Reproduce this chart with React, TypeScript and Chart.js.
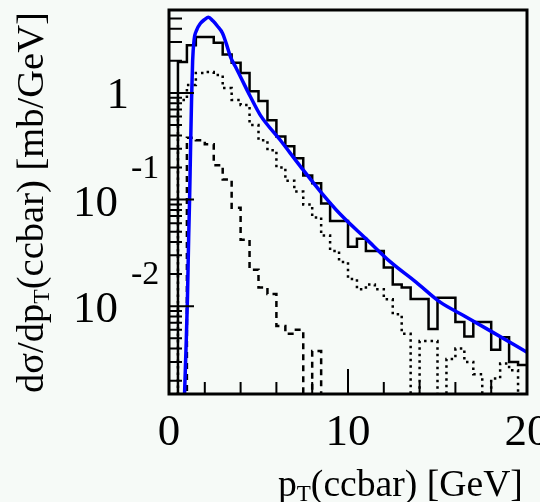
import React, { useEffect, useRef } from 'react';
import { Chart, registerables } from 'chart.js';

Chart.register(...registerables);

// ---------- data ----------
const BIN_EDGES = [
  0, 0.5, 1, 1.5, 2, 2.5, 3, 3.5, 4, 4.5, 5, 5.5, 6, 6.5, 7, 7.5, 8, 8.5, 9, 9.5, 10,
  10.5, 11, 11.5, 12, 12.5, 13, 13.5, 14, 14.5, 15, 15.5, 16, 16.5, 17, 17.5, 18, 18.5, 19, 19.5, 20,
];

// solid histogram (all)
const SOLID = [
  0, 1.95, 2.8, 3.35, 3.35, 2.96, 2.3, 1.92, 1.54, 1.04,
  0.84, 0.556, 0.39, 0.316, 0.244, 0.168, 0.142, 0.092, 0.063, 0.063,
  0.036, 0.043, 0.033, 0.033, 0.023, 0.016, 0.015, 0.0117, 0.0117, 0.0061,
  0.012, 0.012, 0.0071, 0.0052, 0.0071, 0.0071, 0.0039, 0.0051, 0.003, 0.0028,
];

// dotted histogram
const DOTTED = [
  0, 0.86, 1.19, 1.54, 1.57, 1.47, 1.11, 0.86, 0.77, 0.5,
  0.36, 0.29, 0.2, 0.15, 0.119, 0.09, 0.068, 0.046, 0.033, 0.026,
  0.018, 0.0144, 0.016, 0.0144, 0.0116, 0.0084, 0.0055, 0, 0.0047, 0.0047,
  0, 0.0032, 0.004, 0.003, 0.0023, 0, 0.0021, 0.0029, 0.0025, 0,
];

// dashed histogram (bins 0 .. 9 GeV)
const DASHED = [
  0, 0, 0.38, 0.36, 0.33, 0.21, 0.154, 0.084, 0.042, 0.022,
  0.015, 0.013, 0.0065, 0.0055, 0.006, 0, 0.0038, 0,
];

// blue curve
const CURVE_PT = [
  0.85, 0.95, 1.03, 1.1, 1.15, 1.2, 1.26, 1.32, 1.4, 1.55, 1.76, 2.0, 2.2, 2.45, 2.7,
  2.99, 3.2, 3.44, 3.7, 4.0, 4.55, 5.1, 6.2, 7.35, 8.46, 9.6, 11, 12.37, 13.8, 15.15,
  16.5, 18, 20,
];
const CURVE_VAL = [
  0.0012, 0.004, 0.0116, 0.045, 0.1, 0.275, 0.86, 2.0, 3.13, 3.9, 4.5, 4.9, 5.13, 4.75, 4.25,
  3.64, 2.9, 2.17, 1.78, 1.41, 0.92, 0.62, 0.364, 0.204, 0.119, 0.072, 0.043, 0.026, 0.0168, 0.0109,
  0.0081, 0.0058, 0.0037,
];

const X_TICKS = [0, 2, 4, 6, 8, 10, 12, 14, 16, 18, 20];
const X_MAJOR = [0, 10, 20];
const X_LABELS = ['0', '10', '20'];

const Y_TICKS = [
  0.002, 0.003, 0.004, 0.005, 0.006, 0.007, 0.008, 0.009,
  0.01, 0.02, 0.03, 0.04, 0.05, 0.06, 0.07, 0.08, 0.09,
  0.1, 0.2, 0.3, 0.4, 0.5, 0.6, 0.7, 0.8, 0.9,
  1, 2, 3, 4, 5, 6,
];
const Y_MAJOR = [0.01, 0.1, 1];
const Y_LABEL_BASE = ['10', '10', '1'];
const Y_LABEL_EXP = ['-2', '-1', ''];

const X_MIN = 0;
const X_MAX = 20;
const Y_MIN = 0.0015;
const Y_MAX = 6;
const ZERO_FLOOR = 1e-5; // empty bins on a log axis

const BG = '#f6faf7';
const SERIF = '"Liberation Serif", "DejaVu Serif", "Times New Roman", serif';

function histPoints(values: number[]) {
  const pts = values.map((v, i) => ({ x: BIN_EDGES[i], y: v > 0 ? v : ZERO_FLOOR }));
  const last = values[values.length - 1];
  pts.push({ x: BIN_EDGES[values.length], y: last > 0 ? last : ZERO_FLOOR });
  return pts;
}

const rootStyle = {
  id: 'rootStyle',
  beforeDraw(chart: any) {
    const { ctx, width, height } = chart;
    ctx.save();
    ctx.fillStyle = BG;
    ctx.fillRect(0, 0, width, height);
    ctx.restore();
  },
  afterDatasetsDraw(chart: any) {
    const { ctx, chartArea: a, scales } = chart;
    const xs = scales.x;
    const ys = scales.y;
    ctx.save();
    ctx.strokeStyle = '#000';
    ctx.fillStyle = '#000';

    // ticks
    ctx.lineWidth = 2;
    ctx.beginPath();
    for (const t of X_TICKS) {
      const px = xs.getPixelForValue(t);
      const len = X_MAJOR.includes(t) ? 25 : 12;
      ctx.moveTo(px, a.bottom);
      ctx.lineTo(px, a.bottom - len);
    }
    for (const t of Y_TICKS) {
      const py = ys.getPixelForValue(t);
      const len = Y_MAJOR.includes(t) ? 25 : 13;
      ctx.moveTo(a.left, py);
      ctx.lineTo(a.left + len, py);
    }
    ctx.stroke();

    // frame
    ctx.lineWidth = 3;
    ctx.strokeRect(a.left, a.top, a.right - a.left, a.bottom - a.top);

    // y labels
    ctx.textBaseline = 'alphabetic';
    Y_MAJOR.forEach((v, i) => {
      const py = ys.getPixelForValue(v);
      const base = Y_LABEL_BASE[i];
      const exp = Y_LABEL_EXP[i];
      ctx.font = `45px ${SERIF}`;
      ctx.textAlign = 'right';
      if (!exp) {
        ctx.fillText(base, a.left - 40, py + 15);
      } else {
        ctx.fillText(base, a.left - 51, py + 16);
        ctx.font = `34px ${SERIF}`;
        ctx.textAlign = 'left';
        ctx.fillText(exp, a.left - 38, py - 22);
      }
    });

    // x labels
    ctx.font = `45px ${SERIF}`;
    ctx.textAlign = 'center';
    X_MAJOR.forEach((v, i) => {
      const px = xs.getPixelForValue(v);
      ctx.fillText(X_LABELS[i], px, a.bottom + 51);
    });

    // x title: p_T(ccbar) [GeV]
    {
      const parts = [
        { t: 'p', size: 36, dy: 0 },
        { t: 'T', size: 22, dy: 5 },
        { t: '(ccbar) [GeV]', size: 36, dy: 0 },
      ];
      let total = 0;
      for (const p of parts) {
        ctx.font = `${p.size}px ${SERIF}`;
        total += ctx.measureText(p.t).width;
      }
      const target = 245;
      const k = target / total;
      let cx = 523 - target;
      ctx.textAlign = 'left';
      for (const p of parts) {
        ctx.font = `${p.size * k}px ${SERIF}`;
        ctx.fillText(p.t, cx, 496 + p.dy);
        cx += ctx.measureText(p.t).width;
      }
    }

    // y title: dσ/dp_T(ccbar) [mb/GeV]
    {
      const parts = [
        { t: 'dσ/dp', size: 36, dy: 0 },
        { t: 'T', size: 22, dy: 6 },
        { t: '(ccbar) [mb/GeV]', size: 36, dy: 0 },
      ];
      let total = 0;
      for (const p of parts) {
        ctx.font = `${p.size}px ${SERIF}`;
        total += ctx.measureText(p.t).width;
      }
      const target = 381;
      const k = target / total;
      ctx.translate(43, 393);
      ctx.rotate(-Math.PI / 2);
      ctx.textAlign = 'left';
      let cx = 0;
      for (const p of parts) {
        ctx.font = `${p.size * k}px ${SERIF}`;
        ctx.fillText(p.t, cx, p.dy);
        cx += ctx.measureText(p.t).width;
      }
    }
    ctx.restore();
  },
};

export default function App() {
  const ref = useRef<HTMLCanvasElement>(null);

  useEffect(() => {
    document.body.style.margin = '0';
    document.body.style.background = BG;
    const canvas = ref.current;
    if (!canvas) return;

    const chart = new Chart(canvas, {
      type: 'line',
      data: {
        datasets: [
          {
            label: 'curve',
            data: CURVE_PT.map((x, i) => ({ x, y: CURVE_VAL[i] })),
            borderColor: '#0000ff',
            borderWidth: 3.5,
            pointRadius: 0,
            cubicInterpolationMode: 'monotone',
            fill: false,
          },
          {
            label: 'all',
            data: histPoints(SOLID),
            borderColor: '#000000',
            borderWidth: 2.5,
            pointRadius: 0,
            stepped: 'before',
            fill: false,
          },
          {
            label: 'dotted',
            data: histPoints(DOTTED),
            borderColor: '#000000',
            borderWidth: 2.5,
            borderDash: [2.5, 4],
            pointRadius: 0,
            stepped: 'before',
            fill: false,
          },
          {
            label: 'dashed',
            data: histPoints(DASHED),
            borderColor: '#000000',
            borderWidth: 2.5,
            borderDash: [6, 5],
            pointRadius: 0,
            stepped: 'before',
            fill: false,
          },
        ] as any,
      },
      options: {
        animation: false,
        responsive: false,
        devicePixelRatio: 1,
        layout: { padding: { left: 169, right: 13, top: 10, bottom: 108 } },
        plugins: { legend: { display: false }, tooltip: { enabled: false } },
        scales: {
          x: { type: 'linear', min: X_MIN, max: X_MAX, display: false },
          y: { type: 'logarithmic', min: Y_MIN, max: Y_MAX, display: false },
        },
      },
      plugins: [rootStyle],
    });
    return () => chart.destroy();
  }, []);

  return (
    <div style={{ width: 540, height: 502, background: BG }}>
      <canvas ref={ref} width={540} height={502} style={{ display: 'block' }} />
    </div>
  );
}
